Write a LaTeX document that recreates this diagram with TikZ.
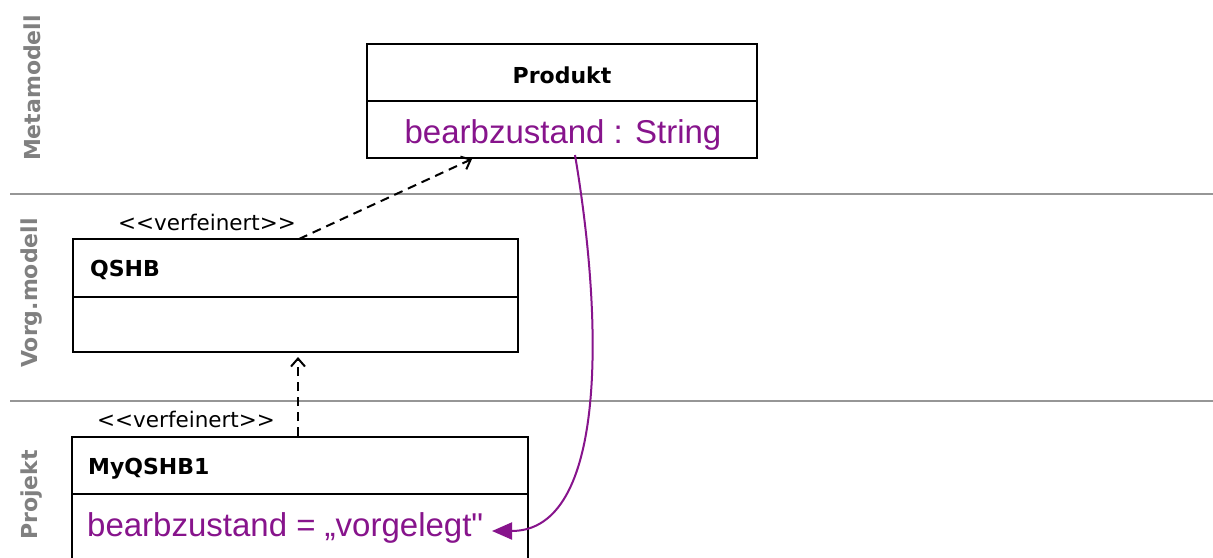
\documentclass[tikz,border=0pt]{standalone}
\usepackage{fontspec}
\setmainfont{Liberation Sans}[Ligatures=TeXOff]
\newfontfamily\dejavu{DejaVu Sans}
\usetikzlibrary{arrows.meta}
\definecolor{attr}{RGB}{135,20,140}
\definecolor{lanegray}{RGB}{150,150,150}
\definecolor{lanetext}{RGB}{128,128,128}
\begin{document}
\begin{tikzpicture}[x=1pt,y=-1pt,
  box/.style={draw=black,line width=2pt,inner sep=0pt,fill=none},
  divider/.style={draw=black,line width=2pt},
  sep/.style={draw=lanegray,line width=2pt},
  lane/.style={rotate=90,text=lanetext,font=\dejavu\bfseries\fontsize{22}{24}\selectfont,inner sep=0pt},
  title/.style={font=\dejavu\bfseries\fontsize{22}{24}\selectfont,inner sep=0pt},
  attrtext/.style={text=attr,font=\fontsize{33}{36}\selectfont,inner sep=0pt},
  stereo/.style={font=\dejavu\fontsize{21.5}{23}\selectfont,inner sep=0pt},
  refine/.style={draw=black,line width=2pt,dash pattern=on 9pt off 6pt,-{Straight Barb[length=8pt,width=14pt,line width=2pt]}},
  link/.style={draw=attr,line width=2pt,-{Triangle[length=20pt,width=17pt]}}]
\useasboundingbox (0,0) rectangle (1213,557);
\clip (0,0) rectangle (1213,557);
\fill[white] (0,0) rectangle (1213,557);

% lane separators
\coordinate (s1a) at (10,194); \coordinate (s1b) at (1213,194);
\coordinate (s2a) at (10,401); \coordinate (s2b) at (1213,401);
\draw[sep] (s1a) -- (s1b);
\draw[sep] (s2a) -- (s2b);

% lane labels
\node[lane] (lmeta) at (32,88) {Metamodell};
\node[lane] (lvorg) at (32,293) {Vorg.modell};
\node[lane] (lproj) at (32,495) {Projekt};

% Produkt
\node[box,minimum width=390pt,minimum height=114pt] (prod) at (562,101) {};
\coordinate (pd1) at (367,101); \coordinate (pd2) at (757,101);
\draw[divider] (pd1) -- (pd2);
\node[title] (prodt) at (562,75) {Produkt};
\node[attrtext] (proda) at (563,135) {bearbzustand : String};

% QSHB
\node[box,minimum width=445pt,minimum height=113pt] (qshb) at (295.5,295.5) {};
\coordinate (qd1) at (73,297); \coordinate (qd2) at (518,297);
\draw[divider] (qd1) -- (qd2);
\node[title,anchor=west] (qshbt) at (90,270) {QSHB};
\node[stereo,anchor=west] (st1) at (118,222) {{<}{<}verfeinert{>}{>}};

% MyQSHB1
\node[box,minimum width=456pt,minimum height=180pt,anchor=north west] (my) at (71,436) {};
\coordinate (md1) at (71,494); \coordinate (md2) at (527,494);
\draw[divider] (md1) -- (md2);
\node[title,anchor=west] (myt) at (88,469) {MyQSHB1};
\node[stereo,anchor=west] (st2) at (97,419) {{<}{<}verfeinert{>}{>}};
\node[attrtext,anchor=west] (mya) at (87,528) {bearbzustand = „vorgelegt"};

% refinement arrows
\coordinate (r1s) at (299,239);
\coordinate (r1e) at (472,159);
\draw[refine] (r1s) -- (r1e);
\coordinate (r2s) at (298,436);
\coordinate (r2e) at (298,357);
\draw[refine] (r2s) -- (r2e);

% value link
\coordinate (ls) at (575,155);
\coordinate (le) at (492,531);
\draw[link] (ls) .. controls (603,320) and (608,531) .. (le);
\end{tikzpicture}
\end{document}
